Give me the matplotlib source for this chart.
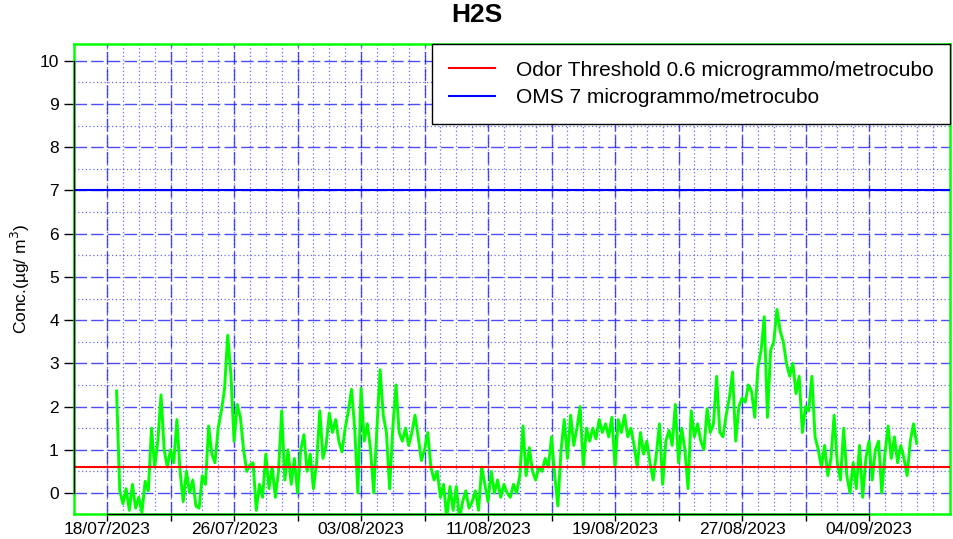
import numpy as np
import pandas as pd
import matplotlib
matplotlib.use("Agg")
import matplotlib.pyplot as plt

plt.rcParams["font.family"] = ["Liberation Sans", "DejaVu Sans"]

# H2S readings, one every 4.8 h starting 18/07/2023 14:24
START = pd.Timestamp("2023-07-18 14:24")
STEP_HOURS = 4.8
conc = [
    2.36, 0.05, -0.25, 0.1, -0.4, 0.2, -0.35, -0.1, -0.45, 0.27,
    0.05, 1.5, 0.6, 1.2, 2.27, 1.0, 0.6, 1.0, 0.7, 1.7,
    0.5, -0.2, 0.5, 0.0, 0.3, -0.3, -0.35, 0.4, 0.2, 1.55,
    0.9, 0.7, 1.5, 1.9, 2.4, 3.65, 2.75, 1.2, 2.05, 1.75,
    1.0, 0.5, 0.65, 0.7, -0.4, 0.2, -0.1, 0.9, 0.1, 0.6,
    -0.1, 0.5, 1.9, 0.3, 1.0, 0.2, 0.8, 0.0, 1.0, 1.35,
    0.5, 0.9, 0.1, 0.7, 1.9, 0.8, 1.1, 1.85, 1.4, 1.7,
    1.2, 0.95, 1.5, 1.9, 2.4, 1.5, 0.0, 2.42, 1.2, 1.6,
    1.0, 0.0, 1.5, 2.85, 1.8, 1.4, 0.1, 1.5, 2.5, 1.4,
    1.2, 1.5, 1.1, 1.4, 1.8, 1.3, 0.75, 1.0, 1.4, 0.6,
    0.3, 0.5, -0.1, 0.2, -0.6, 0.15, -0.4, 0.15, -0.6, -0.2,
    0.05, -0.35, -0.2, 0.05, -0.4, 0.6, 0.2, -0.2, 0.5, 0.0,
    0.3, -0.1, 0.2, 0.0, -0.1, 0.2, 0.0, 0.4, 1.55, 0.4,
    1.05, 0.5, 0.3, 0.6, 0.5, 0.8, 0.6, 1.3, 0.4, -0.3,
    1.0, 1.7, 0.8, 1.8, 1.1, 1.5, 2.0, 0.6, 1.5, 1.2,
    1.5, 1.25, 1.7, 1.4, 1.6, 1.3, 1.75, 0.6, 1.7, 1.4,
    1.8, 1.3, 1.5, 1.1, 0.6, 1.4, 0.9, 1.2, 0.7, 0.3,
    0.9, 1.6, 0.2, 1.2, 1.45, 1.1, 2.05, 0.7, 1.5, 1.0,
    0.1, 1.9, 1.3, 1.6, 1.2, 1.0, 1.95, 1.4, 1.6, 2.7,
    1.4, 1.3, 1.8, 2.2, 2.8, 1.2, 2.0, 2.2, 2.1, 2.5,
    2.35, 1.75, 2.9, 3.3, 4.08, 1.75, 3.3, 3.5, 4.25, 3.75,
    3.5, 3.0, 2.7, 3.0, 2.3, 2.7, 1.4, 2.0, 1.9, 2.7,
    1.3, 1.0, 0.6, 1.1, 0.4, 0.8, 1.8, 0.7, 0.3, 1.5,
    0.4, 0.0, 0.7, 0.1, 1.1, -0.1, 0.8, 1.2, 0.3, 1.0,
    1.2, 0.0, 0.9, 1.55, 0.8, 1.3, 0.7, 1.1, 0.8, 0.4,
    1.2, 1.6, 1.15,
]
times = START + pd.to_timedelta(np.arange(len(conc)) * STEP_HOURS, unit="h")

ODOR_LIMIT = 0.6
OMS_LIMIT = 7.0
labels = ["Odor Threshold 0.6 microgrammo/metrocubo", "OMS 7 microgrammo/metrocubo"]

DAY0 = pd.Timestamp("2023-07-18")
major_days = pd.date_range("2023-07-18", "2023-09-04", freq="4D")
minor_days = pd.date_range("2023-07-18", "2023-09-08", freq="D")
y_major = np.arange(0, 11)
y_minor = np.arange(0.5, 10, 1.0)

fig = plt.figure(figsize=(9.54, 5.39), dpi=100)
ax = fig.add_axes([0.0776, 0.0464, 0.9182, 0.872])

# grid: dashed every 4 days / every unit, dotted every day / half unit
for d in minor_days:
    ax.axvline(d, color="#3a3aff", lw=0.9, ls=(0, (1, 2)), alpha=0.75, zorder=1)
for d in major_days:
    ax.axvline(d, color="#2020ff", lw=1.0, ls=(0, (9, 3)), alpha=0.8, zorder=1)
for v in y_minor:
    ax.axhline(v, color="#3a3aff", lw=0.9, ls=(0, (1, 2)), alpha=0.75, zorder=1)
for v in y_major:
    ax.axhline(v, color="#2020ff", lw=1.0, ls=(0, (9, 3)), alpha=0.8, zorder=1)

ax.plot(times, conc, color="#00ff00", lw=2.1, zorder=3)
h1 = ax.axhline(ODOR_LIMIT, color="#ff0000", lw=1.5, zorder=4)
h2 = ax.axhline(OMS_LIMIT, color="#0000ff", lw=1.5, zorder=4)

ax.set_xlim(DAY0 - pd.Timedelta(days=2.08), DAY0 + pd.Timedelta(days=53.1))
ax.set_ylim(-0.486, 10.39)

ax.set_xticks(major_days)
ax.set_xticklabels([d.strftime("%d/%m/%Y") if i % 2 == 0 else "" for i, d in enumerate(major_days)],
                   fontsize=12.5)
ax.set_yticks(y_major)
ax.set_yticklabels([str(v) for v in y_major], fontsize=12.5)
ax.tick_params(axis="x", length=5, width=1, color="black", direction="out", pad=1)
ax.tick_params(axis="y", length=7, width=1, color="black", direction="out", pad=4)

for s in ax.spines.values():
    s.set_color("#00ff00")
    s.set_linewidth(1.8)

# R-style axis lines, first to last tick
ax.plot([major_days[0], major_days[-1]], [0, 0], transform=ax.get_xaxis_transform(),
        color="black", lw=1.0, clip_on=False, zorder=5)
ax.plot([0, 0], [0, 10], transform=ax.get_yaxis_transform(),
        color="black", lw=1.0, clip_on=False, zorder=5)

fig.suptitle("H2S", fontsize=19, fontweight="bold", x=0.5, y=0.995, va="top")
ax.set_ylabel("Conc.(µg/ m$^3$)", fontsize=12.5)
ax.yaxis.set_label_coords(-0.048, 0.5)

leg = ax.legend([h1, h2], labels, loc="upper right", fontsize=15, frameon=True,
                fancybox=False, framealpha=1, edgecolor="black",
                handlelength=2.2, handletextpad=1.0, borderpad=0.8, labelspacing=0.4,
                bbox_to_anchor=(1.0, 1.0), borderaxespad=0)
leg.get_frame().set_linewidth(1.0)
leg.set_zorder(6)

fig.savefig("out.png", dpi=100)
